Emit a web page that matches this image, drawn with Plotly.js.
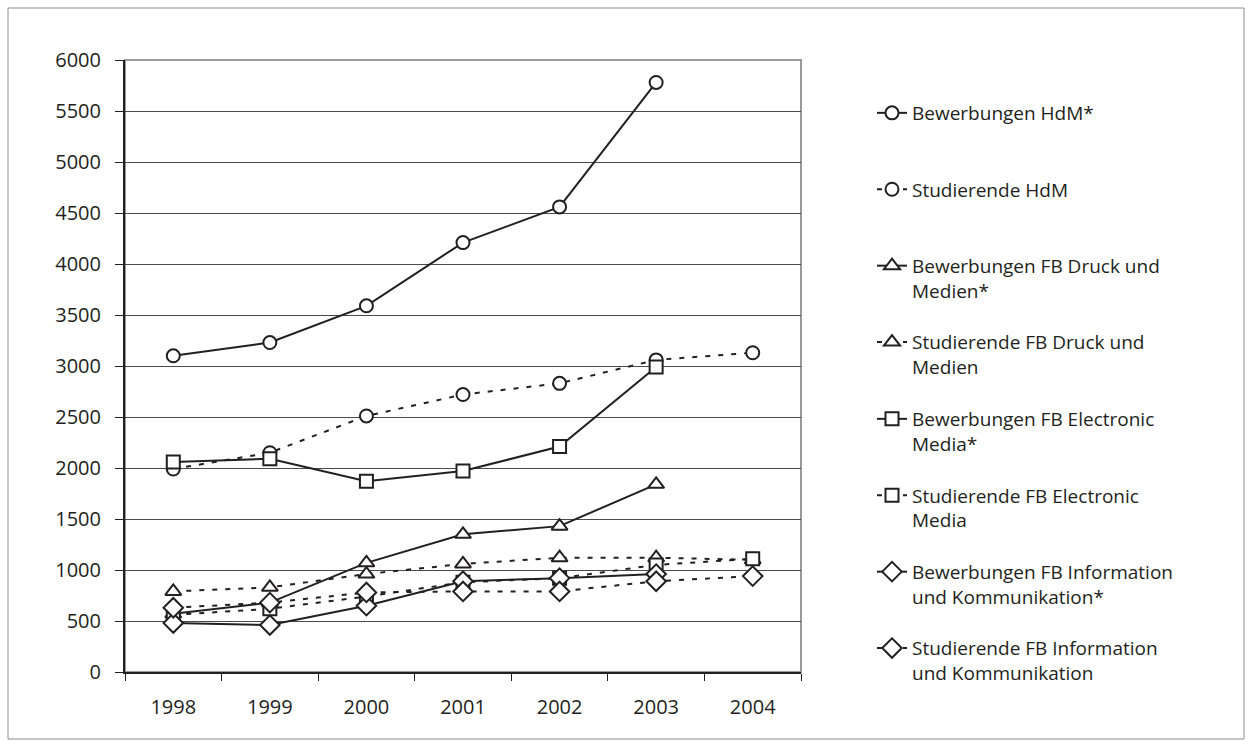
<!DOCTYPE html>
<html>
<head>
<meta charset="utf-8">
<script src="https://cdn.plot.ly/plotly-3.0.1.min.js"></script>
<style>
html,body{margin:0;padding:0;background:#fff;}
#chart{width:1252px;height:747px;}
</style>
</head>
<body>
<div id="chart"></div>
<script>
const years = ['1998','1999','2000','2001','2002','2003','2004'];
const bewerbungenHdM   = [3100, 3230, 3590, 4210, 4560, 5780, null];
const studierendeHdM   = [1990, 2150, 2510, 2720, 2830, 3060, 3130];
const bewerbungenDruck = [570, 680, 1070, 1350, 1430, 1840, null];
const studierendeDruck = [790, 830, 960, 1060, 1120, 1120, 1100];
const bewerbungenEM    = [2060, 2090, 1870, 1970, 2210, 2990, null];
const studierendeEM    = [560, 620, 740, 880, 920, 1050, 1110];
const bewerbungenIK    = [480, 460, 650, 890, 920, 960, null];
const studierendeIK    = [630, 680, 780, 790, 790, 890, 940];

const seriesNames = [
  'Bewerbungen HdM*<br>&nbsp;',
  'Studierende HdM<br>&nbsp;',
  'Bewerbungen FB Druck und<br>Medien*',
  'Studierende FB Druck und<br>Medien',
  'Bewerbungen FB Electronic<br>Media*',
  'Studierende FB Electronic<br>Media',
  'Bewerbungen FB Information<br>und Kommunikation*',
  'Studierende FB Information<br>und Kommunikation'
];
const seriesData = [bewerbungenHdM, studierendeHdM, bewerbungenDruck, studierendeDruck,
                    bewerbungenEM, studierendeEM, bewerbungenIK, studierendeIK];
const symbols = ['circle','circle','triangle-up','triangle-up','square','square','diamond','diamond'];
const dashed  = [false,true,false,true,false,true,false,true];

const ink = '#231f20';
const traces = seriesData.map((d, i) => ({
  type: 'scatter',
  mode: 'lines+markers',
  x: years,
  y: d,
  name: seriesNames[i],
  legend: i < 4 ? 'legend' : 'legend2',
  legendgroup: 'g' + i,
  connectgaps: false,
  line: {color: ink, width: 2, dash: dashed[i] ? '5px,8px' : 'solid'},
  marker: {
    symbol: symbols[i],
    size: symbols[i] === 'diamond' ? 15 : (symbols[i] === 'triangle-up' ? 14 : 13),
    color: '#ffffff',
    line: {color: ink, width: 2}
  },
  cliponaxis: false,
  hoverinfo: 'x+y'
}));

const L = 125, R = 801, T = 60, B = 672, W = 1252, H = 747;
const px = v => (v - L) / (R - L);
const py = v => (B - v) / (B - T);

const legendFont = {family: 'Open Sans, Noto Sans, sans-serif', size: 19, color: ink};
const legendBase = {
  xref: 'container', yref: 'container',
  xanchor: 'left', yanchor: 'top',
  valign: 'top',
  tracegroupgap: 24,
  itemwidth: 30,
  font: legendFont,
  bgcolor: 'rgba(0,0,0,0)'
};

const layout = {
  width: W, height: H,
  margin: {l: L, r: W - R, t: T, b: H - B, pad: 0},
  paper_bgcolor: '#ffffff',
  plot_bgcolor: '#ffffff',
  font: {family: 'Open Sans, Noto Sans, sans-serif', size: 20, color: ink},
  showlegend: true,
  legend: Object.assign({}, legendBase, {x: 872 / W, y: 1 - 94 / H}),
  legend2: Object.assign({}, legendBase, {x: 872 / W, y: 1 - 400 / H}),
  xaxis: {
    type: 'category',
    range: [-0.5, 6.5],
    showgrid: false,
    zeroline: false,
    showline: true, linecolor: ink, linewidth: 2,
    ticks: 'outside', tickson: 'boundaries', ticklen: 7, tickwidth: 1, tickcolor: ink,
    ticklabelstandoff: 16,
    tickfont: {size: 20, color: ink},
    fixedrange: true
  },
  yaxis: {
    range: [0, 6000],
    dtick: 500,
    tick0: 0,
    showgrid: true, gridcolor: '#4a4a4a', gridwidth: 1,
    zeroline: false,
    showline: true, linecolor: ink, linewidth: 2,
    ticks: 'outside', ticklen: 8, tickwidth: 1, tickcolor: ink,
    ticklabelstandoff: 10,
    tickfont: {size: 20, color: ink},
    fixedrange: true
  },
  shapes: [
    {type: 'rect', xref: 'paper', yref: 'paper', x0: 0, x1: 1, y0: 0, y1: 1,
     line: {color: '#9a9a9a', width: 2}, fillcolor: 'rgba(0,0,0,0)', layer: 'below'},
    {type: 'rect', xref: 'paper', yref: 'paper', x0: px(8), x1: px(1244), y0: py(739), y1: py(8),
     line: {color: '#8c8c8c', width: 1}, fillcolor: 'rgba(0,0,0,0)', layer: 'below'}
  ]
};

Plotly.newPlot('chart', traces, layout, {displayModeBar: false, staticPlot: true});
</script>
</body>
</html>
